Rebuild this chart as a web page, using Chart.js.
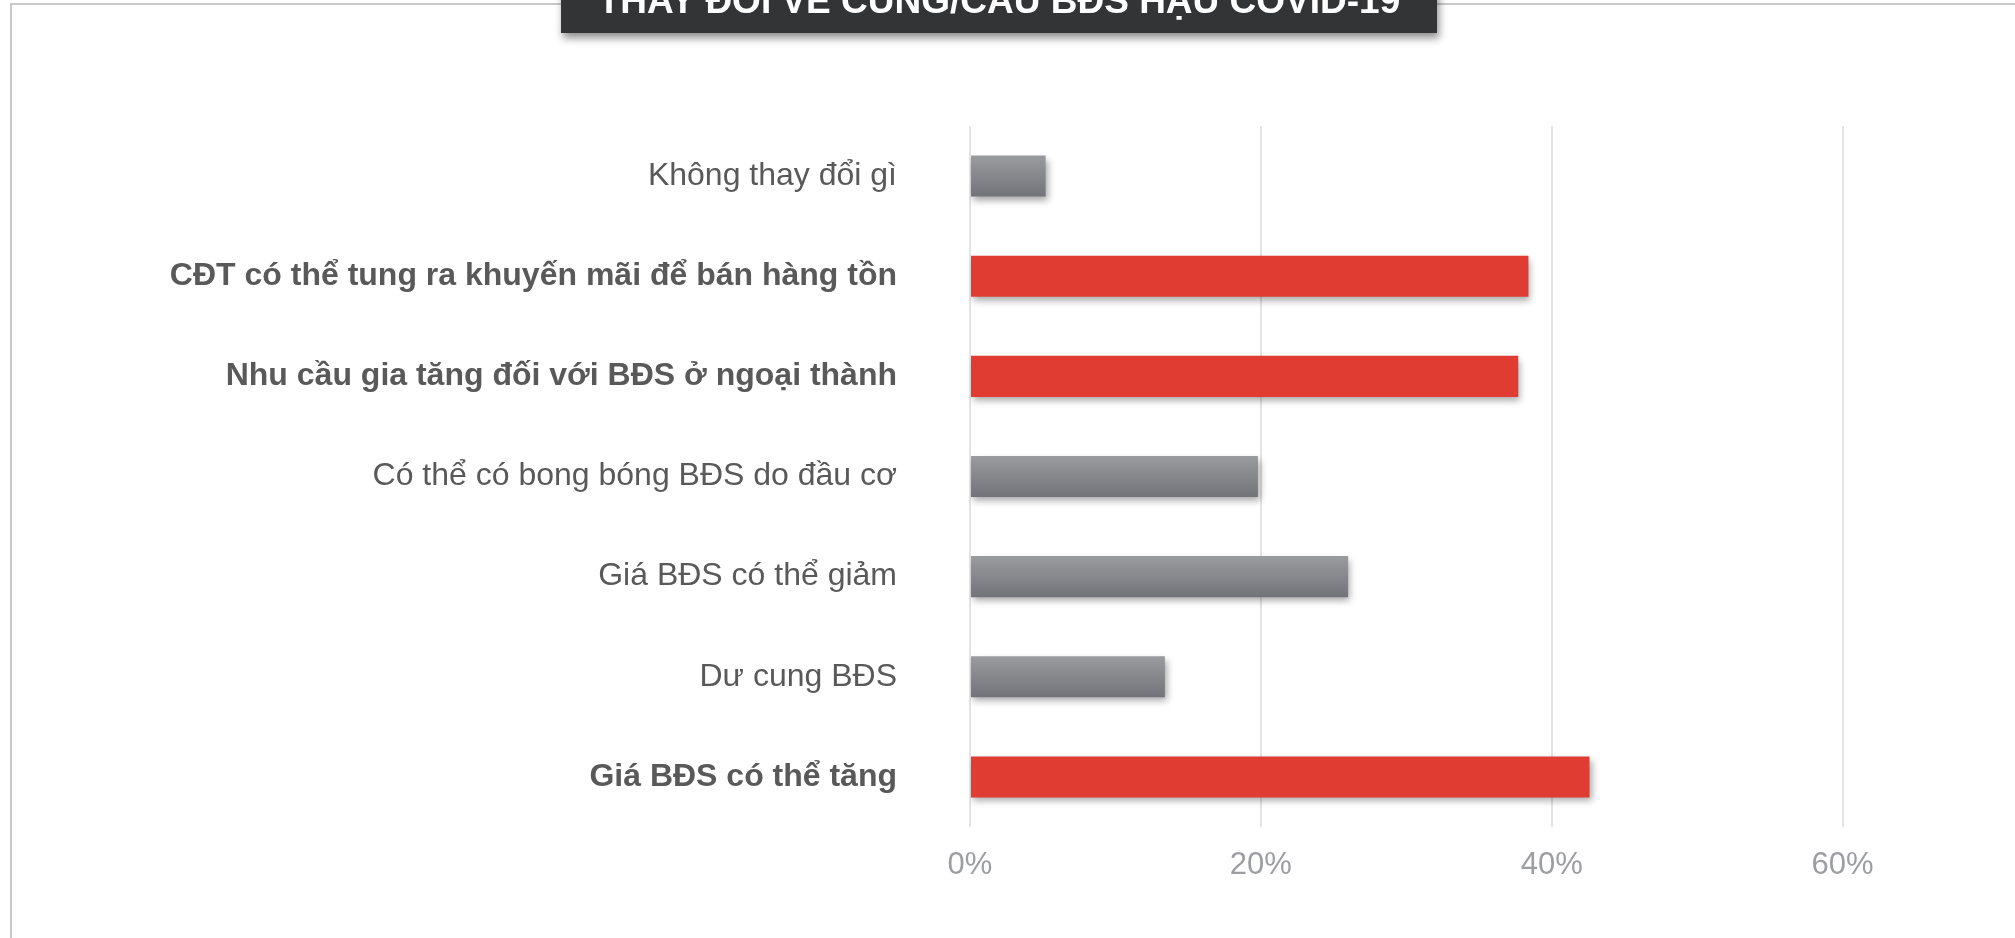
<!DOCTYPE html>
<html>
<head>
<meta charset="utf-8">
<script src="https://cdn.jsdelivr.net/npm/chart.js@4"></script>
<style>
  html, body { margin: 0; padding: 0; background: #fff; }
  #wrap { width: 2015px; height: 938px; position: relative; }
</style>
</head>
<body>
<div id="wrap"><canvas id="cungCauChart"></canvas></div>
<script>
const titleText = "THAY ĐỔI VỀ CUNG/CẦU BĐS HẬU COVID-19";

const categories = [
  "Không thay đổi gì",
  "CĐT có thể tung ra khuyến mãi để bán hàng tồn",
  "Nhu cầu gia tăng đối với BĐS ở ngoại thành",
  "Có thể có bong bóng BĐS do đầu cơ",
  "Giá BĐS có thể giảm",
  "Dư cung BĐS",
  "Giá BĐS có thể tăng",
];
const values = [5.2, 38.4, 37.7, 19.8, 26.0, 13.4, 42.6];
const emphasis = [false, true, true, false, false, false, true];
const tickValues = [0, 20, 40, 60];

const ctx = document.getElementById("cungCauChart");

// khung + hộp tiêu đề
const framePlugin = {
  id: "frame",
  beforeDraw(chart) {
    const c = chart.ctx;
    c.save();
    c.strokeStyle = "#c8c8c8";
    c.lineWidth = 2;
    c.beginPath();
    c.moveTo(11, 938);
    c.lineTo(11, 4);
    c.lineTo(2015, 4);
    c.stroke();
    c.restore();
  },
  afterDraw(chart) {
    const c = chart.ctx;
    c.save();
    c.shadowColor = "rgba(0,0,0,0.45)";
    c.shadowBlur = 8;
    c.shadowOffsetX = 2;
    c.shadowOffsetY = 5;
    c.fillStyle = "#333436";
    c.fillRect(561, -20, 876, 53);
    c.restore();
    c.save();
    c.fillStyle = "#ffffff";
    c.font = "bold 37px 'Liberation Sans', Arial, sans-serif";
    c.textAlign = "center";
    c.textBaseline = "alphabetic";
    c.fillText(titleText, 999, 13);
    c.restore();
  },
};

const shadowPlugin = {
  id: "barShadow",
  beforeDatasetsDraw(chart) {
    const c = chart.ctx;
    c.save();
    c.shadowColor = "rgba(0,0,0,0.35)";
    c.shadowBlur = 7;
    c.shadowOffsetX = 2;
    c.shadowOffsetY = 4;
  },
  afterDatasetsDraw(chart) {
    chart.ctx.restore();
  },
};

function barColor(context) {
  if (emphasis[context.dataIndex]) return "#e03c31";
  const chart = context.chart;
  const yScale = chart.scales.y;
  if (!chart.chartArea || !yScale) return "#87888c";
  const cy = yScale.getPixelForValue(context.dataIndex);
  const g = chart.ctx.createLinearGradient(0, cy - 20, 0, cy + 20);
  g.addColorStop(0, "#9a9b9e");
  g.addColorStop(1, "#737479");
  return g;
}

new Chart(ctx, {
  type: "bar",
  data: {
    labels: categories,
    datasets: [
      {
        data: values,
        backgroundColor: barColor,
        borderWidth: 0,
        barPercentage: 0.41,
        categoryPercentage: 1,
      },
    ],
  },
  options: {
    indexAxis: "y",
    responsive: true,
    maintainAspectRatio: false,
    animation: false,
    devicePixelRatio: 1,
    layout: { padding: { top: 126, left: 0, right: 27, bottom: 0 } },
    plugins: {
      legend: { display: false },
      tooltip: { enabled: false },
    },
    scales: {
      x: {
        min: 0,
        max: 70,
        afterBuildTicks(scale) {
          scale.ticks = tickValues.map((v) => ({ value: v }));
        },
        afterFit(scale) {
          scale.height = 111;
        },
        grid: { color: "#e3e3e3", lineWidth: 2, drawTicks: false },
        border: { display: false },
        ticks: {
          padding: 20,
          color: "#9d9ea2",
          font: { family: "'Liberation Sans', Arial, sans-serif", size: 31 },
          callback: (v) => v + "%",
        },
      },
      y: {
        afterFit(scale) {
          scale.width = 970;
        },
        grid: { display: false, drawTicks: false },
        border: { display: false },
        ticks: {
          padding: 73,
          color: "#595959",
          font: (c) => ({
            family: "'Liberation Sans', Arial, sans-serif",
            size: 32,
            weight: emphasis[c.index] ? "bold" : "normal",
          }),
        },
      },
    },
  },
  plugins: [framePlugin, shadowPlugin],
});
</script>
</body>
</html>
